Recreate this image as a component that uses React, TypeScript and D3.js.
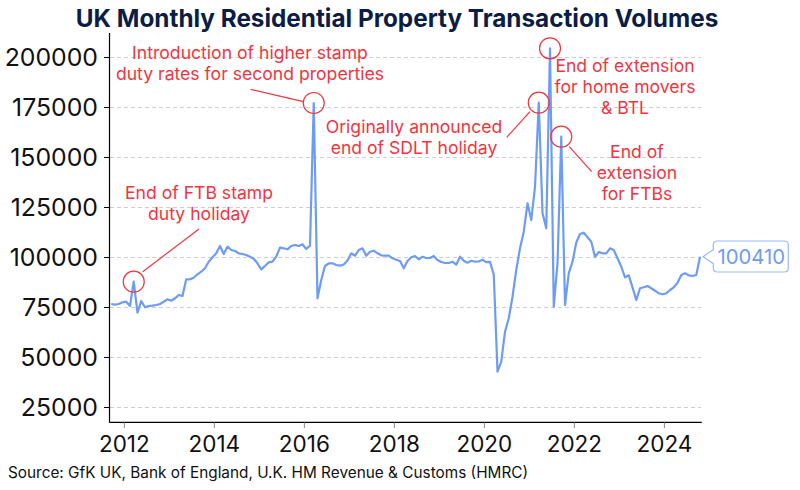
import React from "react";
import * as d3 from "d3";

const startYear = 2011;
const startMonth = 8; // September (0-based)
const volumes: number[] = [
  76750, 76400, 76750, 77600, 77900, 75800, 87900, 72400, 78250, 75100,
  75750, 75900, 76250, 76750, 77900, 79100, 78400, 79600, 81250, 80750,
  89100, 89100, 89900, 91600, 92900, 94600, 97900, 100100, 102100, 105750,
  101750, 105400, 103750, 103250, 102100, 101750, 101250, 100400, 99400, 97100,
  94100, 95750, 97600, 97900, 100400, 104900, 104600, 104100, 105750, 106250,
  105750, 106600, 104250, 105900, 177250, 79600, 88750, 95750, 97100, 97100,
  96250, 95900, 96500, 98500, 102100, 100900, 103750, 104600, 100900, 102900,
  103400, 102100, 101100, 100900, 100900, 99600, 98900, 98250, 94600, 98250,
  100100, 100750, 99100, 100400, 99750, 99750, 100750, 98750, 97750, 97250,
  97250, 97900, 96400, 100400, 98400, 97400, 98400, 97900, 98000, 98900,
  97700, 97800, 91500, 42900, 47900, 62900, 69600, 80400, 93750, 104600,
  112900, 127100, 118750, 135400, 177400, 122100, 114600, 204600, 75400, 97100,
  160400, 76250, 92100, 97900, 107500, 111750, 112400, 110100, 107900, 100400,
  102700, 102100, 102100, 104600, 103750, 99600, 95400, 90100, 91100, 85100,
  78750, 84600, 85100, 85750, 84600, 83400, 82100, 81600, 82100, 83750,
  85100, 87400, 91250, 92100, 91100, 90750, 91250, 100410,
];
const yTicks = [25000, 50000, 75000, 100000, 125000, 150000, 175000, 200000];
const xTicks = [2012, 2014, 2016, 2018, 2020, 2022, 2024];

type Note = { idx: number; lines: string[]; tx: number; ty: number; line?: [number, number, number, number] };
const notes: Note[] = [
  { idx: 6, lines: ["End of FTB stamp", "duty holiday"], tx: 199, ty: 193, line: [199, 229, 142.7, 271.7] },
  { idx: 54, lines: ["Introduction of higher stamp", "duty rates for second properties"], tx: 250, ty: 53, line: [250.7, 89.3, 303.3, 101.7] },
  { idx: 114, lines: ["Originally announced", "end of SDLT holiday"], tx: 414, ty: 127, line: [506.7, 137.3, 530, 111.7] },
  { idx: 117, lines: ["End of extension", "for home movers", "& BTL"], tx: 625, ty: 66 },
  { idx: 120, lines: ["End of", "extension", "for FTBs"], tx: 637, ty: 152, line: [569.3, 146.7, 591.7, 171.7] },
];

const FONT = "Inter, 'Noto Sans', sans-serif";
const RED = "#f2343f";
const BLUE = "#6e9cf5";

export default function App() {
  const W = 800, H = 490;
  const x = d3.scaleLinear().domain([2011.67, 2024.83]).range([109.5, 701.75]);
  const y = d3.scaleLinear().domain([17750, 212250]).range([422, 33]);
  const pts = volumes.map((v, i) => {
    const m = startMonth + i;
    const t = startYear + Math.floor(m / 12) + ((m % 12) + 0.5) / 12;
    return [x(t), y(v)] as [number, number];
  });
  const path = d3.line()(pts) || "";
  const last = pts[pts.length - 1];
  const bx = 713.3, bw = 75, by = 241, bh = 31, r = 4;
  const cy = last[1];
  const boxPath = `M${bx + r},${by} H${bx + bw - r} Q${bx + bw},${by} ${bx + bw},${by + r} V${by + bh - r} Q${bx + bw},${by + bh} ${bx + bw - r},${by + bh} H${bx + r} Q${bx},${by + bh} ${bx},${by + bh - r} V${cy + 7} L${last[0] + 3},${cy} L${bx},${cy - 7} V${by + r} Q${bx},${by} ${bx + r},${by} Z`;

  return (
    <svg width={W} height={H} style={{ display: "block", position: "absolute", left: 0, top: 0 }} fontFamily={FONT}>
      <rect width={W} height={H} fill="#fff" />
      <text x={397} y={27} textAnchor="middle" fontSize={24.3} fontWeight={700} fill="#0b1d45">
        UK Monthly Residential Property Transaction Volumes
      </text>
      {yTicks.map((t) => (
        <g key={t}>
          <line x1={110} x2={701} y1={y(t)} y2={y(t)} stroke="#cfcfcf" strokeDasharray="4,3" />
          <line x1={104} x2={109.5} y1={y(t)} y2={y(t)} stroke="#000" />
          <text x={98} y={y(t)} dy="0.35em" textAnchor="end" fontSize={24.8} fill="#111">{t}</text>
        </g>
      ))}
      <line x1={109.5} x2={109.5} y1={33} y2={422.5} stroke="#000" strokeWidth={1.2} />
      <line x1={109.5} x2={701.75} y1={422.3} y2={422.3} stroke="#000" strokeWidth={1.2} />
      {xTicks.map((t) => (
        <g key={t}>
          <line x1={x(t)} x2={x(t)} y1={422.5} y2={428} stroke="#888" />
          <text x={x(t)} y={451.5} textAnchor="middle" fontSize={22.5} fill="#111">{t}</text>
        </g>
      ))}
      <path d={path} fill="none" stroke={BLUE} strokeWidth={2.2} strokeLinejoin="round" />
      {notes.map((n, k) => (
        <g key={k}>
          <circle cx={pts[n.idx][0]} cy={pts[n.idx][1]} r={10.5} fill="none" stroke={RED} strokeWidth={1.2} />
          {n.line && <line x1={n.line[0]} y1={n.line[1]} x2={n.line[2]} y2={n.line[3]} stroke={RED} strokeWidth={1.2} />}
          {n.lines.map((l, j) => (
            <text key={j} x={n.tx} y={n.ty + j * 21} dy="0.35em" textAnchor="middle" fontSize={17.6} fill={RED}>{l}</text>
          ))}
        </g>
      ))}
      <path d={boxPath} fill="#fff" stroke="#9dbaf7" strokeWidth={1.2} />
      <text x={bx + bw / 2 + 0.5} y={by + bh / 2} dy="0.36em" textAnchor="middle" fontSize={20.3} fill={BLUE}>
        {d3.format("d")(volumes[volumes.length - 1])}
      </text>
      <text x={8} y={478} fontSize={15.35} fill="#111">Source: GfK UK, Bank of England, U.K. HM Revenue &amp; Customs (HMRC)</text>
    </svg>
  );
}
